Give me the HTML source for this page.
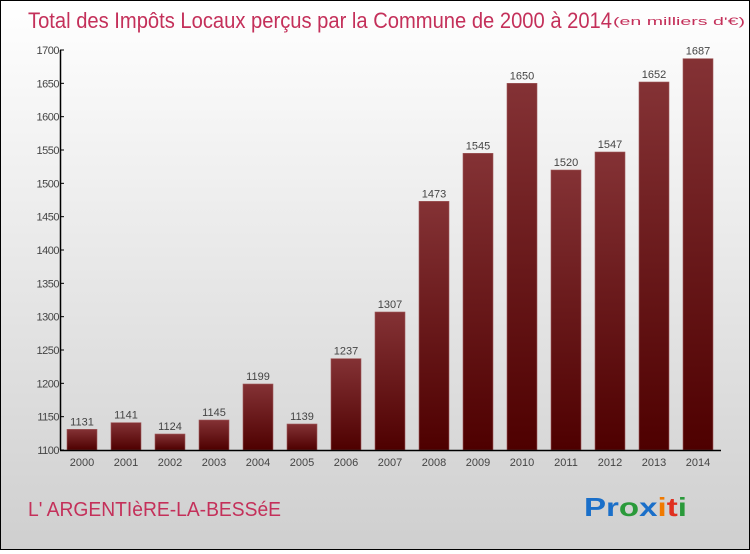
<!DOCTYPE html>
<html><head><meta charset="utf-8"><style>
html,body{margin:0;padding:0}
body{width:750px;height:550px;overflow:hidden;font-family:"Liberation Sans",sans-serif}
#wrap{position:relative;width:748px;height:548px;border:1px solid #000;background:linear-gradient(#ffffff,#cfcfcf)}
</style></head><body>
<div id="wrap">
<svg id="chart" width="748" height="548">
<defs><linearGradient id="bg" x1="0" y1="0" x2="0" y2="1"><stop offset="0" stop-color="#843235"/><stop offset="1" stop-color="#4e0000"/></linearGradient></defs>
<text x="27" y="27" font-size="22" fill="#c4305a" textLength="584" lengthAdjust="spacingAndGlyphs">Total des Impôts Locaux perçus par la Commune de 2000 à 2014</text>
<text x="612" y="24" font-size="11" fill="#c4305a" textLength="132" lengthAdjust="spacingAndGlyphs">(en milliers d'€)</text>
<text x="27" y="515" font-size="20" fill="#c4305a" textLength="253" lengthAdjust="spacingAndGlyphs">L' ARGENTIèRE-LA-BESSéE</text>
<text x="583" y="515" font-size="26" font-weight="bold" textLength="103" lengthAdjust="spacingAndGlyphs"><tspan fill="#1a6fc9">Pr</tspan><tspan fill="#2a9a3a">o</tspan><tspan fill="#1a6fc9">x</tspan><tspan fill="#f07a00">i</tspan><tspan fill="#e03020">t</tspan><tspan fill="#2a9a3a">i</tspan></text>
<g id="plot"></g>
</svg>
</div>
<script>
const categories=["2000","2001","2002","2003","2004","2005","2006","2007","2008","2009","2010","2011","2012","2013","2014"];
const values=[1131,1141,1124,1145,1199,1139,1237,1307,1473,1545,1650,1520,1547,1652,1687];
const ticks=[1100,1150,1200,1250,1300,1350,1400,1450,1500,1550,1600,1650,1700];
const ns="http://www.w3.org/2000/svg";
const g=document.getElementById('plot');
const X0=59,Y0=449,Ymin=1100,Ymax=1700,H=400,pitch=44,bw=30;
const y=v=>Y0-(v-Ymin)/(Ymax-Ymin)*H;
const xb=i=>X0+7+i*pitch;
function mk(t,a){const e=document.createElementNS(ns,t);for(const k in a)e.setAttribute(k,a[k]);g.appendChild(e);return e;}
values.forEach((v,i)=>{
 const r=mk('rect',{x:xb(i),y:y(v),width:bw,height:Y0-y(v),fill:'url(#bg)',stroke:'#a05a5c','stroke-width':0.6});
 
 
 const t=mk('text',{x:xb(i)+bw/2,y:y(v)-4,'text-anchor':'middle','font-size':11,fill:'#444'});
 t.textContent=v;
 
 
 const c=mk('text',{x:xb(i)+bw/2,y:Y0+16,'text-anchor':'middle','font-size':11,fill:'#444'});
 c.textContent=categories[i];
 
 
});
ticks.forEach(v=>{
 mk('line',{x1:X0,x2:X0+4,y1:y(v),y2:y(v),stroke:'#000'});
 const t=mk('text',{x:X0-1,y:y(v)+4,'text-anchor':'end','font-size':11,fill:'#444','letter-spacing':'-0.5'});
 t.textContent=v;
 
 
});
const ya=mk('line',{x1:X0+0.5,x2:X0+0.5,y1:y(Ymax),y2:Y0,stroke:'#000','stroke-width':1.5});


const xa=mk('line',{x1:X0,x2:720,y1:Y0+0.5,y2:Y0+0.5,stroke:'#000','stroke-width':1.5});


</script>
</body></html>
